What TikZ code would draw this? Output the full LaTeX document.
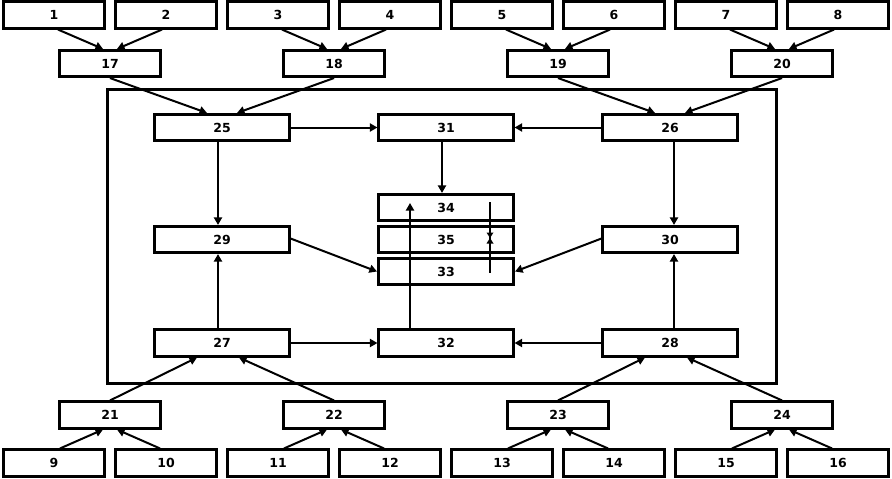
\documentclass[tikz,border=0pt]{standalone}
\usepackage{fontspec}
\setmainfont{DejaVu Sans}
\usetikzlibrary{arrows.meta}
\begin{document}
\begin{tikzpicture}[x=1pt,y=-1pt,
  box/.style={draw,line width=2.6pt,fill=white,minimum width=#1,minimum height=26.5pt,inner sep=0pt,font=\fontsize{12.5}{14}\selectfont\bfseries},
  box/.default=101.5pt,
  con/.style={line width=2pt,-{Triangle[length=7.5pt,width=8pt]}},
  plainline/.style={line width=2pt},
]
\useasboundingbox (0,0) rectangle (892,479);
\node[draw,line width=2.6pt,minimum width=669.5pt,minimum height=294.5pt,inner sep=0pt] (frame) at (442,236.5) {};
% outer rows
\foreach \i in {1,...,8}{
  \node[box] (n\i) at ({54+112*(\i-1)},15) {\i};
}
\foreach \i [evaluate=\i as \j using int(\i+8)] in {1,...,8}{
  \node[box] (n\j) at ({54+112*(\i-1)},463) {\j};
}
\foreach \k [evaluate=\k as \a using int(\k+17), evaluate=\k as \b using int(\k+21)] in {0,...,3}{
  \node[box] (n\a) at ({110+224*\k},63.5) {\a};
  \node[box] (n\b) at ({110+224*\k},415) {\b};
}
% inner boxes
\node[box=134.5pt] (n25) at (222,127.5) {25};
\node[box=134.5pt] (n31) at (446,127.5) {31};
\node[box=134.5pt] (n26) at (670,127.5) {26};
\node[box=134.5pt] (n29) at (222,239.5) {29};
\node[box=134.5pt] (n30) at (670,239.5) {30};
\node[box=135.5pt] (n34) at (446,207.5) {34};
\node[box=135.5pt] (n35) at (446,239.5) {35};
\node[box=135.5pt] (n33) at (446,271.5) {33};
\node[box=134.5pt] (n27) at (222,343) {27};
\node[box=134.5pt] (n32) at (446,343) {32};
\node[box=134.5pt] (n28) at (670,343) {28};
% top arrows
\foreach \k [evaluate=\k as \l using int(2*\k+1), evaluate=\k as \r using int(2*\k+2), evaluate=\k as \t using int(\k+17)] in {0,...,3}{
  \draw[con] ([xshift=4pt]n\l.south) -- ([xshift=-7pt]n\t.north);
  \draw[con] ([xshift=-4pt]n\r.south) -- ([xshift=7pt]n\t.north);
}
\foreach \k [evaluate=\k as \l using int(2*\k+9), evaluate=\k as \r using int(2*\k+10), evaluate=\k as \t using int(\k+21)] in {0,...,3}{
  \draw[con] ([xshift=6pt]n\l.north) -- ([xshift=-7pt]n\t.south);
  \draw[con] ([xshift=-6pt]n\r.north) -- ([xshift=7pt]n\t.south);
}
\draw[con] (n17.south) -- ([xshift=-15pt]n25.north);
\draw[con] (n18.south) -- ([xshift=15pt]n25.north);
\draw[con] (n19.south) -- ([xshift=-15pt]n26.north);
\draw[con] (n20.south) -- ([xshift=15pt]n26.north);
\draw[con] (n21.north) -- ([xshift=-25pt]n27.south);
\draw[con] (n22.north) -- ([xshift=17pt]n27.south);
\draw[con] (n23.north) -- ([xshift=-25pt]n28.south);
\draw[con] (n24.north) -- ([xshift=17pt]n28.south);
% inner arrows
\draw[con] (n25.east) -- (n31.west);
\draw[con] (n26.west) -- (n31.east);
\draw[con] ([xshift=-4pt]n31.south) -- ([xshift=-4pt]n34.north);
\draw[con] ([xshift=-4pt]n25.south) -- ([xshift=-4pt]n29.north);
\draw[con] ([xshift=4pt]n26.south) -- ([xshift=4pt]n30.north);
\draw[con] ([xshift=-4pt]n27.north) -- ([xshift=-4pt]n29.south);
\draw[con] ([xshift=4pt]n28.north) -- ([xshift=4pt]n30.south);
\draw[con] (n27.east) -- (n32.west);
\draw[con] (n28.west) -- (n32.east);
\draw[con] ([yshift=1pt]n29.east) -- (n33.west);
\draw[con] ([yshift=1pt]n30.west) -- (n33.east);
\coordinate (t34) at (410,203);
\draw[con] ([xshift=-36pt]n32.north) -- (t34);
\coordinate (d1) at (490,202);
\coordinate (d2) at (490,273);
\coordinate (dm) at (490,238);
\draw[plainline] (d1) -- (d2);
\fill ([shift={(-3.5,-5.5)}]dm) -- ([shift={(3.5,-5.5)}]dm) -- (dm) -- cycle;
\fill ([shift={(-3.5,5.5)}]dm) -- ([shift={(3.5,5.5)}]dm) -- (dm) -- cycle;
\end{tikzpicture}
\end{document}
